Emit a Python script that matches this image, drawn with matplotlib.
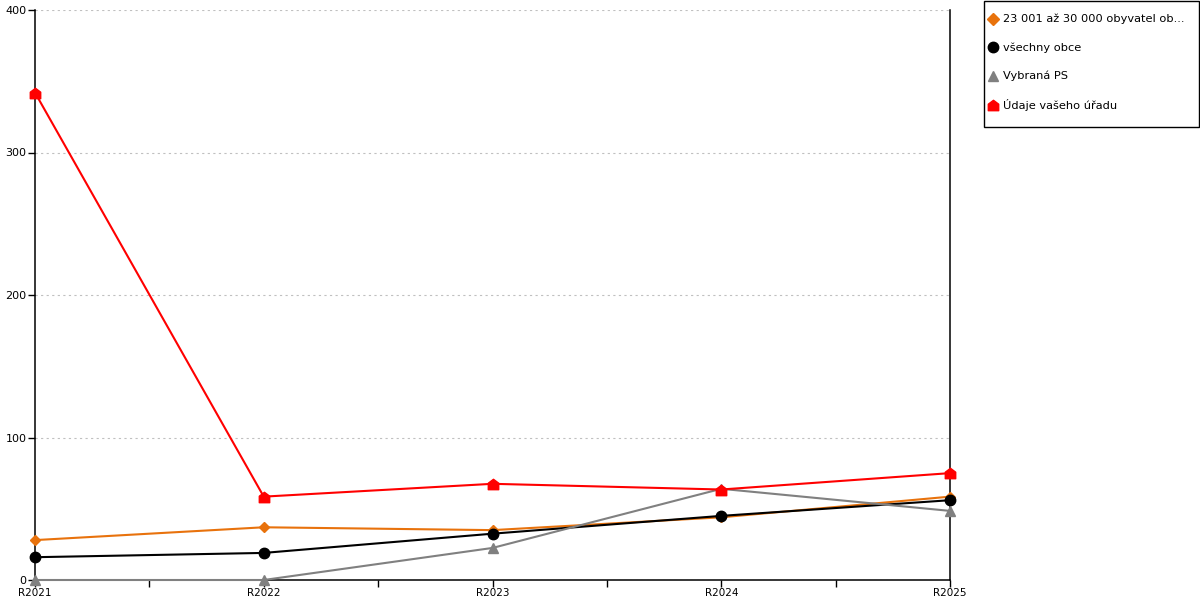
import numpy as np
import matplotlib
matplotlib.use("Agg")
import matplotlib.pyplot as plt
from matplotlib.path import Path
from matplotlib.patches import Rectangle
from matplotlib.ticker import MultipleLocator

years = ["R2021", "R2022", "R2023", "R2024", "R2025"]
obce_23_30k = [28, 37, 35, 44, 58.5]
vsechny_obce = [16, 19, 32.5, 45, 56]
vybrana_ps = [0, 0, 22.5, 64, 48.5]
vas_urad = [342, 58.5, 67.5, 63.5, 75]

labels = ["23 001 až 30 000 obyvatel ob...", "všechny obce", "Vybraná PS", "Údaje vašeho úřadu"]
colors = ["#e8720c", "#000000", "#808080", "#ff0000"]

house = Path([(-1, -1), (1, -1), (1, 0.25), (0, 1), (-1, 0.25), (-1, -1)],
             [Path.MOVETO, Path.LINETO, Path.LINETO, Path.LINETO, Path.LINETO, Path.CLOSEPOLY])
markers = ["D", "o", "^", house]
msizes = [5, 7.5, 7.5, 7.5]

fig = plt.figure(figsize=(12, 6), dpi=100)
ax = fig.add_axes([35 / 1200, 20 / 600, 915 / 1200, 570 / 600])
x = np.arange(len(years))
series = [obce_23_30k, vsechny_obce, vybrana_ps, vas_urad]
for vals, lab, c, m, s in zip(series, labels, colors, markers, msizes):
    ax.plot(x, vals, color=c, lw=1.5, marker=m, ms=s, mec=c, mfc=c, label=lab,
            clip_on=False, zorder=3)

ax.set_xlim(0, len(years) - 1)
ax.set_ylim(0, 400)
ax.set_xticks(x)
ax.set_xticklabels(years, fontsize=7.5)
ax.xaxis.set_minor_locator(MultipleLocator(0.5))
ax.tick_params(axis="x", which="both", direction="out", length=5, width=1, pad=1)
ax.set_yticks([0, 100, 200, 300, 400])
ax.tick_params(axis="y", direction="out", length=5, width=1, pad=1, labelsize=8)
ax.grid(axis="y", color="#c0c0c0", ls=(0, (2, 3)), lw=0.8)
ax.spines["top"].set_visible(False)
for sp in ["left", "right", "bottom"]:
    ax.spines[sp].set_linewidth(1.1)

# legend box drawn separately so its size matches the original
fig.patches.append(Rectangle((983.5 / 1200, 1 - 127 / 600), 215 / 1200, 126.5 / 600,
                             transform=fig.transFigure, fill=False, ec="black", lw=1.0))
leg = fig.legend(loc="upper left", bbox_to_anchor=(990 / 1200, 1 - 14 / 600), fontsize=8.2,
                 frameon=False, handlelength=0.6, handletextpad=0.55, labelspacing=1.58,
                 borderpad=0, borderaxespad=0)
for h, s in zip(leg.legend_handles, [6, 7.5, 7.5, 7.5]):
    h.set_linestyle("none")
    h.set_markersize(s)

fig.savefig("out.png", dpi=100)
